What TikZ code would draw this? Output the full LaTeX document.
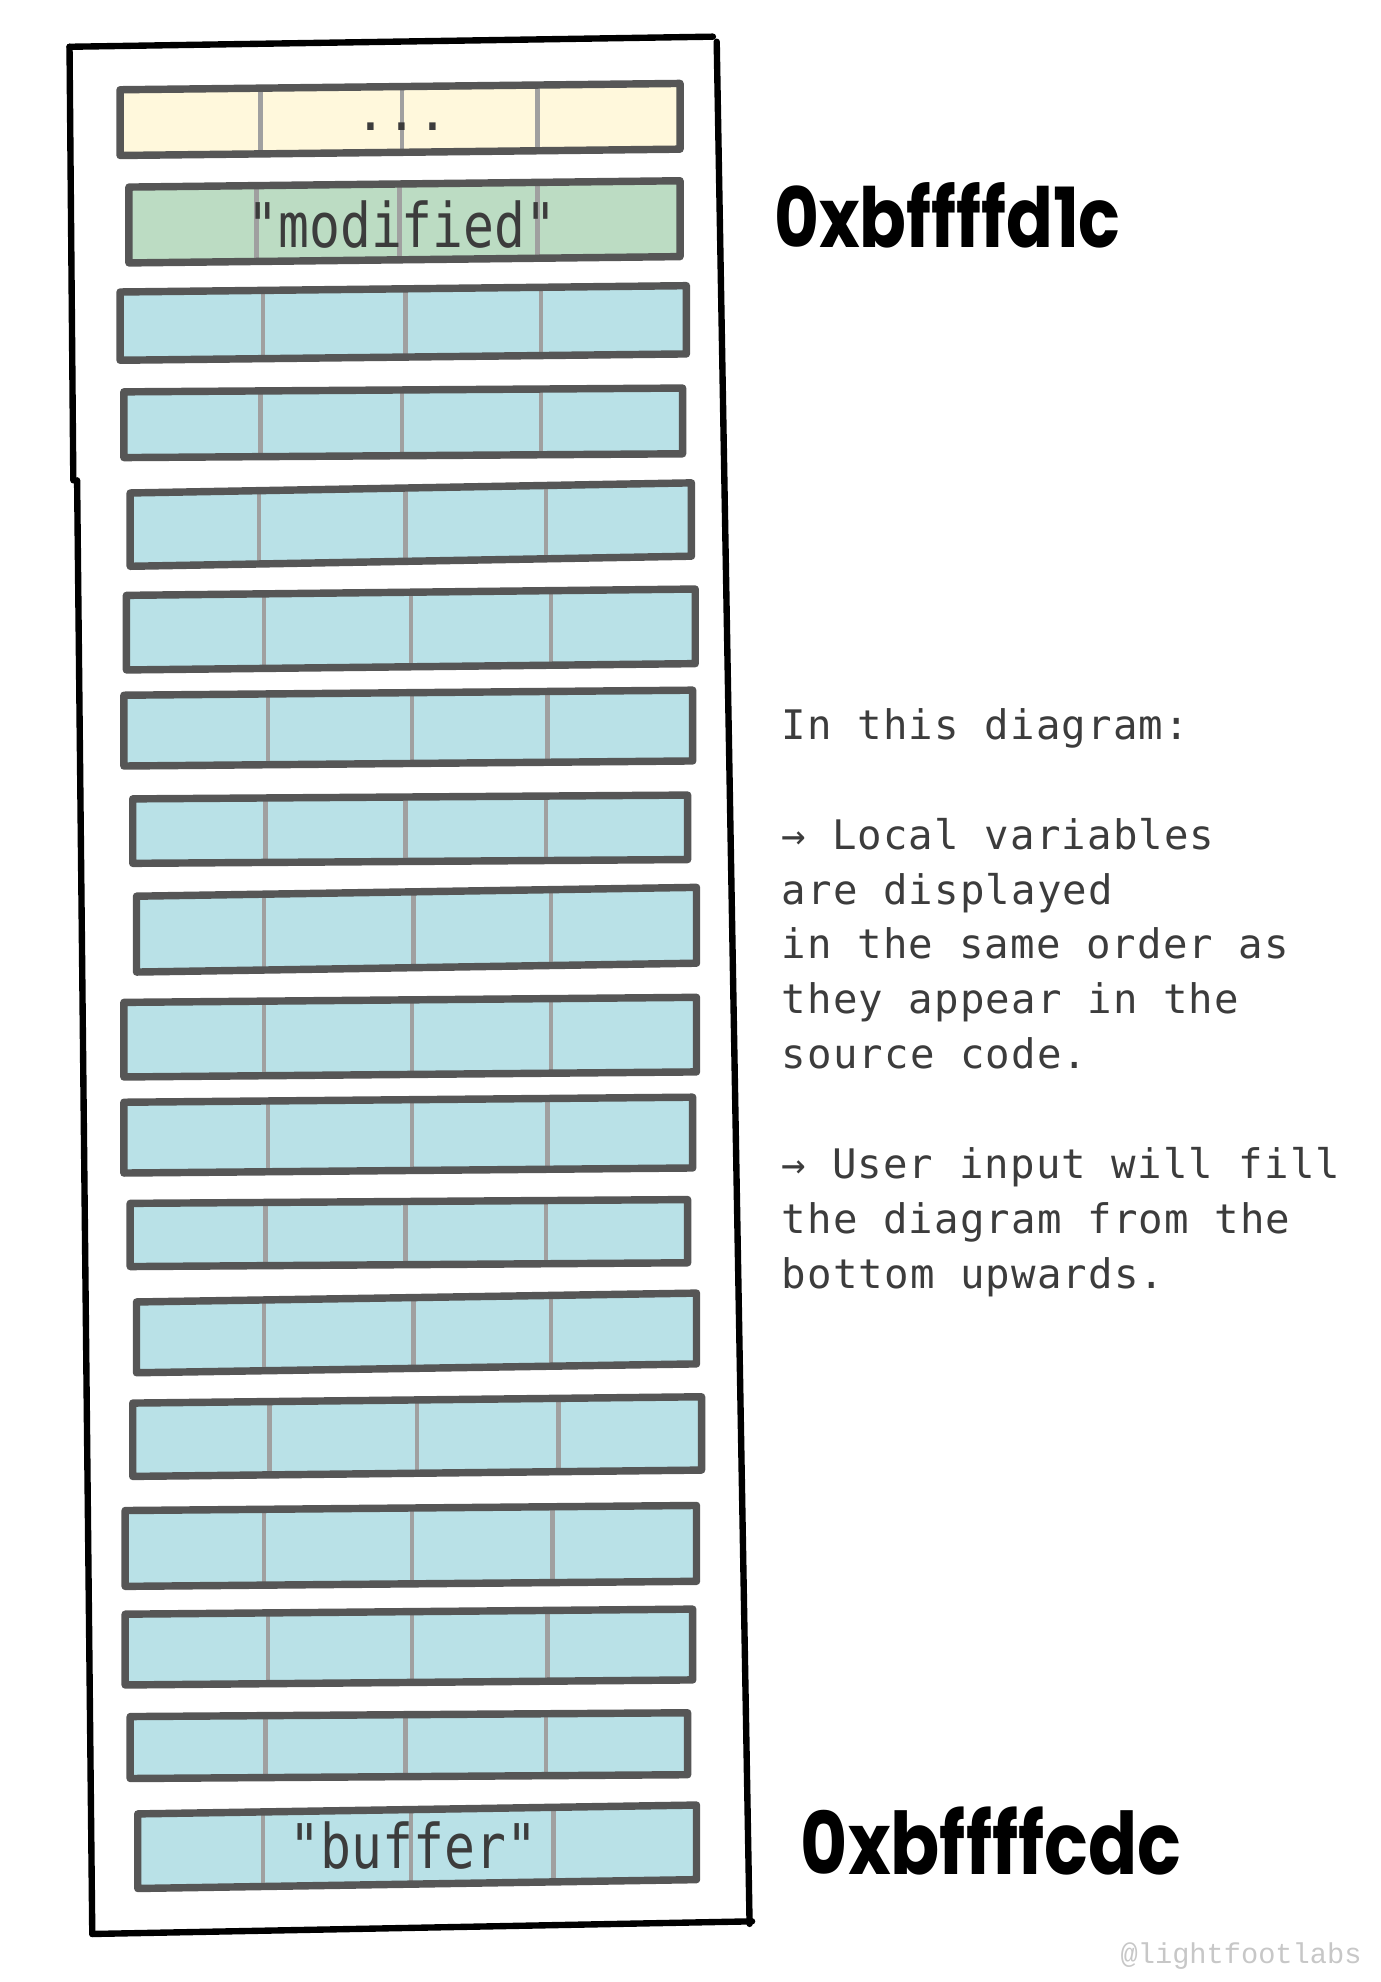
\documentclass[tikz,border=0pt]{standalone}
\usepackage{graphicx}
\usepackage{fontspec}
\newfontfamily\notefont[LetterSpace=2.8]{DejaVu Sans Mono}
\newfontfamily\cellfont{DejaVu Sans Mono}
\newfontfamily\addrfont{Poppins}
\newfontfamily\markfont{Liberation Mono}
\definecolor{rowyellow}{HTML}{FFF8DC}
\definecolor{rowgreen}{HTML}{BCDCC3}
\definecolor{rowblue}{HTML}{B9E1E7}
\definecolor{rowedge}{HTML}{565656}
\definecolor{divgray}{HTML}{A0A0A0}
\definecolor{notegray}{HTML}{3C3C3C}
\newcommand{\tallbox}[1]{\scalebox{1}[1.2]{#1}}
\tikzset{
  rowline/.style={draw=rowedge, line width=2.1pt, line join=round, line cap=round},
  divider/.style={draw=divgray, line width=1.3pt},
  frameline/.style={draw=black, line width=1.8pt, line cap=round},
  celltext/.style={font=\cellfont\fontsize{14.5}{16}\selectfont, text=notegray, inner sep=0pt, anchor=base},
  notetext/.style={font=\notefont\fontsize{11.5}{14}\selectfont, text=notegray, inner sep=0pt, anchor=base west},
  addrtext/.style={font=\addrfont\bfseries\fontsize{19.5}{22}\selectfont, inner sep=0pt, anchor=base west}
}
\begin{document}
\begin{tikzpicture}[x=0.1255mm, y=-0.1255mm]
		\useasboundingbox (0,0) rectangle (1092,1568);
		% stack frame
		\draw[frameline] (55,37) -- (564,29);
		\draw[frameline] (567,33) -- (593,1522);
		\draw[frameline] (73,1530) -- (595,1520);
		\draw[frameline] (55,37) -- (58,380);
		\draw[frameline] (61,380) -- (73,1530);
		% rows: left/right/top/bottom/tilt/dividers/fill
		\foreach \l/\r/\t/\b/\s/\da/\db/\dc/\c in {
			95/538/66/123/5/206/318/425/rowyellow,
			102/538/143/208/5/203/316/425/rowgreen,
			95/543/226/285/5/208/321/428/rowblue,
			98/540/307/362/3/206/318/428/rowblue,
			103/547/382/448/8/205/321/432/rowblue,
			100/550/466/530/5/209/325/436/rowblue,
			98/548/546/606/4/212/326/433/rowblue,
			105/544/629/683/3/210/321/432/rowblue,
			108/551/702/769/7/209/327/436/rowblue,
			98/551/789/852/4/209/326/436/rowblue,
			98/548/868/928/4/212/326/433/rowblue,
			103/544/949/1002/3/210/321/432/rowblue,
			108/551/1023/1086/7/209/327/436/rowblue,
			105/555/1105/1168/5/213/330/442/rowblue,
			99/551/1191/1255/4/209/326/437/rowblue,
			99/548/1273/1333/4/212/326/433/rowblue,
			103/544/1355/1407/3/210/321/432/rowblue,
			109/551/1428/1494/7/208/325/438/rowblue}
		{
			\fill[\c] (\l,\t+\s) -- (\r,\t) -- (\r,\b-\s) -- (\l,\b) -- cycle;
			\begin{scope}
				\clip (\l,\t+\s) -- (\r,\t) -- (\r,\b-\s) -- (\l,\b) -- cycle;
				\draw[divider] (\da,\t) -- (\da,\b) (\db,\t) -- (\db,\b) (\dc,\t) -- (\dc,\b);
			\end{scope}
			\draw[rowline] (\l,\t+\s) -- (\r,\t) -- (\r,\b-\s) -- (\l,\b) -- cycle;
		}
		\node[celltext] (dots) at (318,103) {...};
		\node[celltext] (modified) at (318,196) {\tallbox{"modified"}};
		\node[celltext] (buffer) at (327,1478) {\tallbox{"buffer"}};
		% addresses
		\node[addrtext] (top addr) at (612,196) {\tallbox{0xbffffd1c}};
		\node[addrtext] (bottom addr) at (633,1483) {\scalebox{1.05}[1.25]{0xbffffcdc}};
		% notes
		\foreach \k/\txt in {0/In this diagram:, 2/→ Local variables, 3/are displayed,
			4/in the same order as, 5/they appear in the, 6/source code.,
			8/→ User input will fill, 9/the diagram from the, 10/bottom upwards.}
			\node[notetext] (note\k) at (618,585+43.4*\k) {\txt};
		\node[font=\markfont\fontsize{8.1}{10}\selectfont, text=black!22, inner sep=0pt, anchor=base west] (mark) at (886,1553) {@lightfootlabs};
	\end{tikzpicture}
\end{document}
